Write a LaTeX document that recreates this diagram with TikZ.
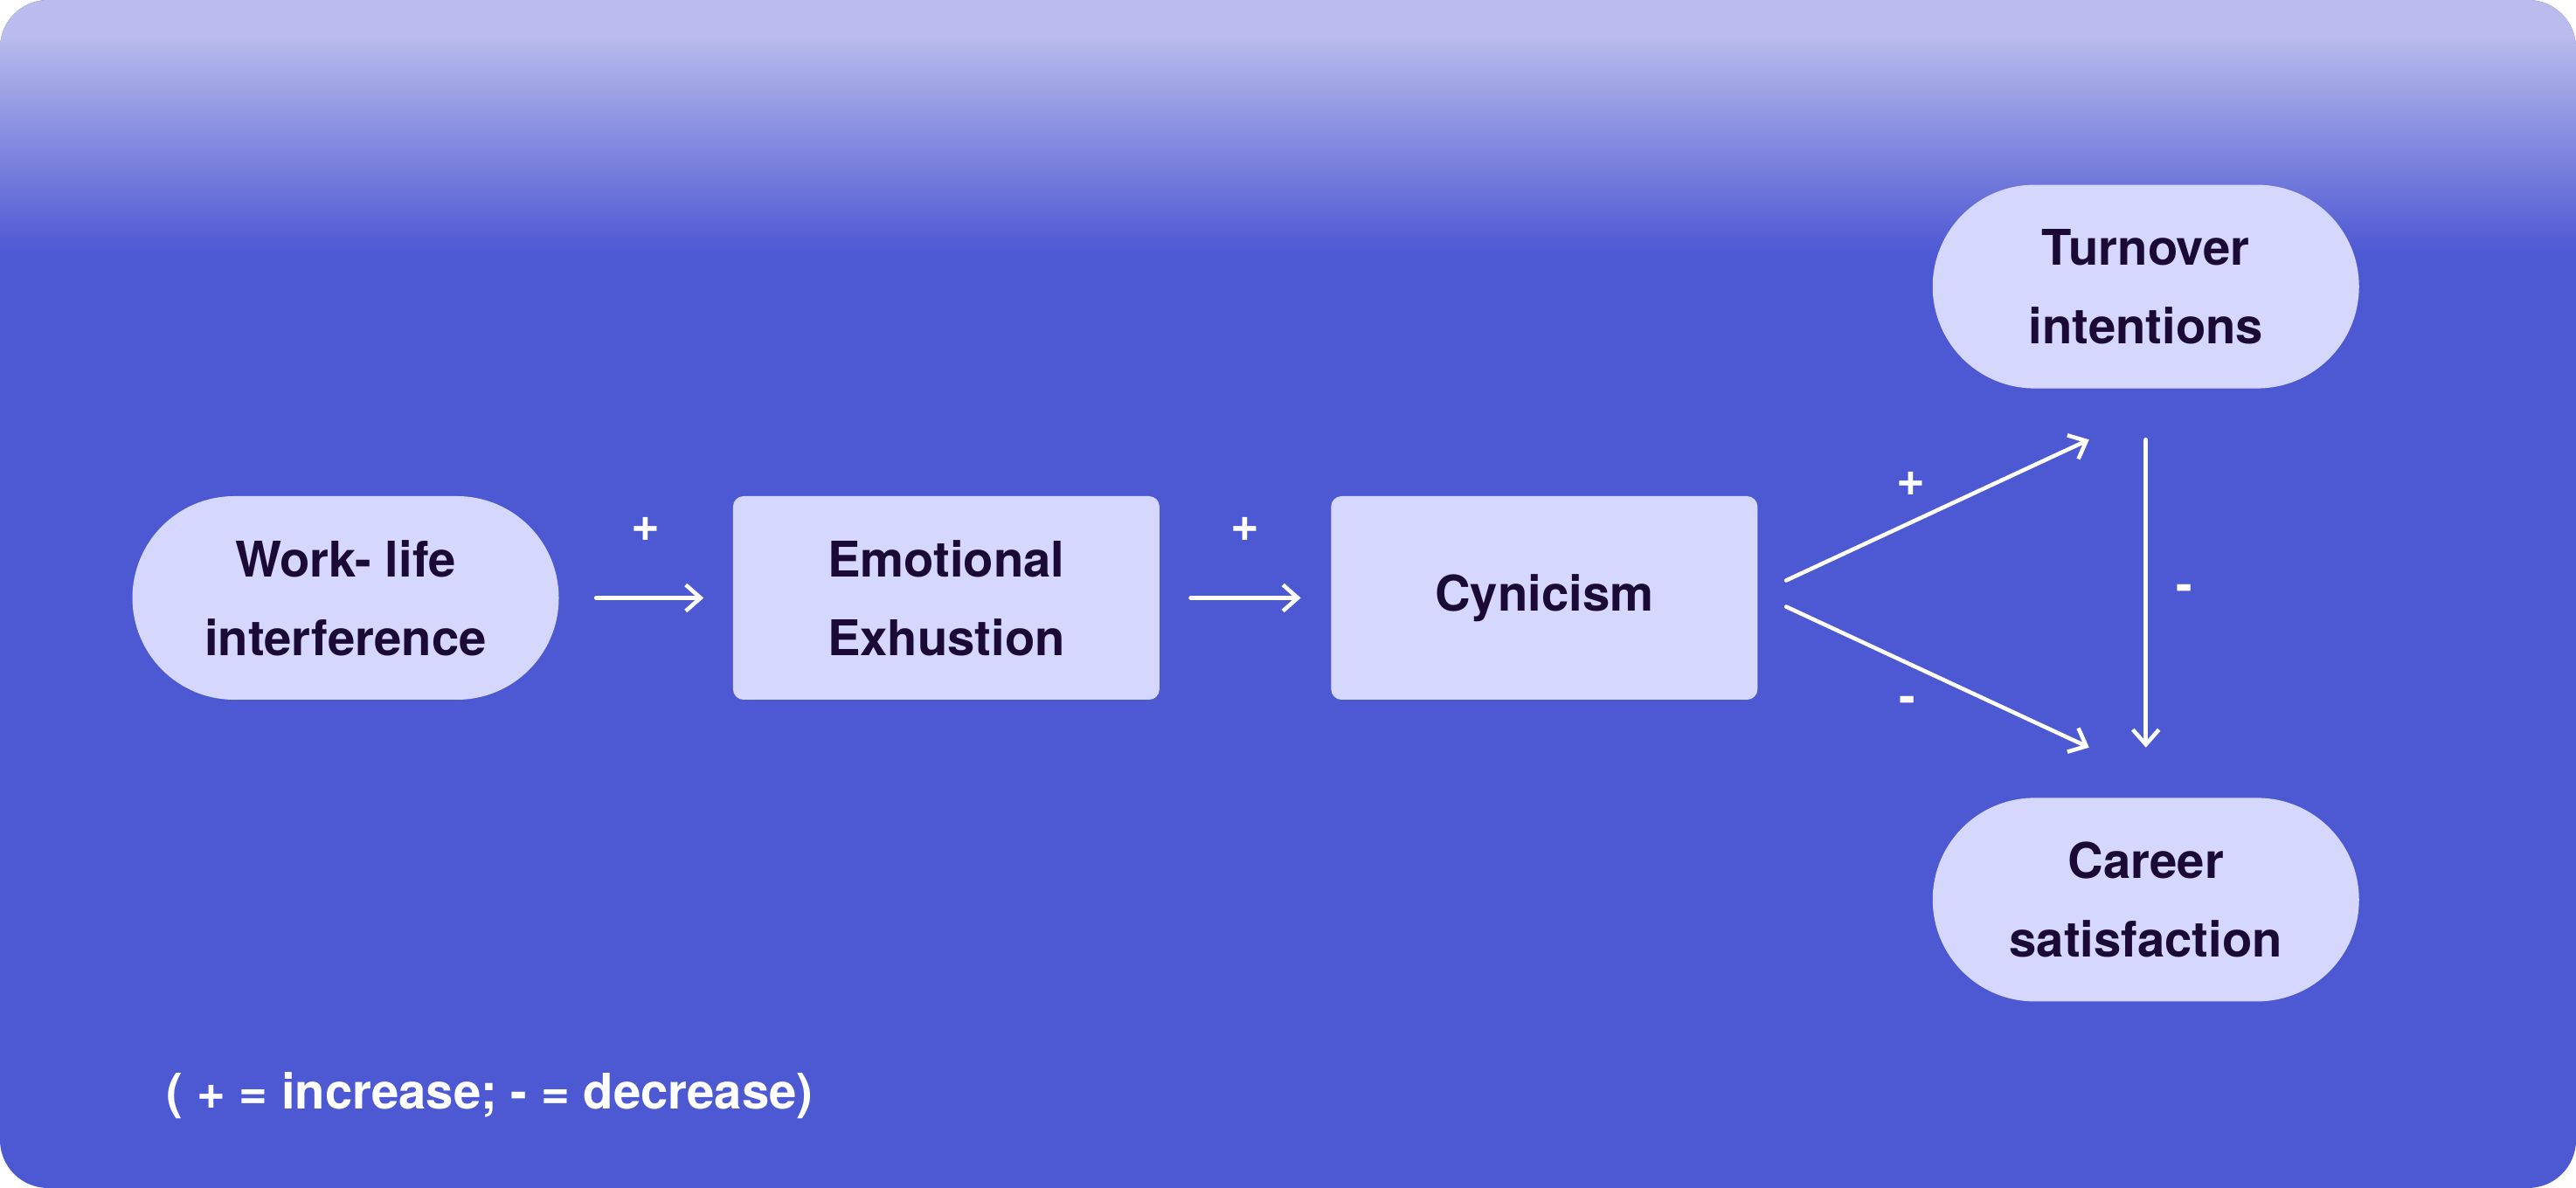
\documentclass[tikz,border=0pt]{standalone}
\usepackage{fontspec}
\setmainfont{TeX Gyre Heros}
\usepackage{xcolor}
\usetikzlibrary{arrows.meta, positioning}

\definecolor{bgmain}{HTML}{4D58D3}
\definecolor{bglight}{HTML}{B9BCEC}
\definecolor{boxfill}{HTML}{D6D7FC}
\definecolor{inkdark}{HTML}{1C0A36}

\begin{document}
\begin{tikzpicture}[
    node distance=1.97cm,
    pill/.style={rectangle, rounded corners=11.65mm, fill=boxfill, minimum width=4.88cm, minimum height=2.33cm, align=center, text=inkdark, font=\fontsize{16pt}{25.6pt}\selectfont\bfseries},
    box/.style={rectangle, rounded corners=1.2mm, fill=boxfill, minimum width=4.88cm, minimum height=2.33cm, align=center, text=inkdark, font=\fontsize{16pt}{25.6pt}\selectfont\bfseries},
    sign/.style={text=white, font=\fontsize{16pt}{19pt}\selectfont\bfseries, inner sep=0pt},
    arrow/.style={-{Straight Barb[length=1.7mm, width=3mm]}, white, line width=1.3pt, line cap=round, line join=round},
]
    % Background
    \useasboundingbox (0,0) rectangle (29.48,13.6);
    \fill[white] (0,0) rectangle (29.48,13.6);
    \begin{scope}
        \clip[rounded corners=5.5mm] (0,0) rectangle (29.48,13.6);
        \fill[bgmain] (0,0) rectangle (29.48,13.6);
        \fill[bglight] (0,13.2) rectangle (29.48,13.6);
        \shade[top color=bglight, bottom color=bgmain] (0,10.7) rectangle (29.48,13.2);
    \end{scope}

    % Main chain
    \node[pill] (work) at (3.955,6.755) {Work- life\\interference};
    \node[box, right=1.98cm of work] (emo) {Emotional\\Exhustion};
    \node[box, right=1.95cm of emo] (cyn) {Cynicism};

    % Outcomes
    \node[pill, above right=1.22cm and 1.99cm of cyn] (turn) {Turnover\\intentions};
    \node[pill, below right=1.11cm and 1.99cm of cyn] (career) {Career\\satisfaction};

    % Arrow ends
    \coordinate (upstart) at ([shift={(0.32,0.2)}]cyn.east);
    \coordinate (downstart) at ([shift={(0.32,-0.1)}]cyn.east);
    \coordinate (upend) at ([shift={(-0.65,-0.58)}]turn.south);
    \coordinate (downend) at ([shift={(-0.65,0.57)}]career.north);

    % Arrows
    \draw[arrow, shorten <=4.2mm, shorten >=3.3mm] (work.east) -- node[sign, yshift=7.9mm] {+} (emo.west);
    \draw[arrow, shorten <=3.5mm, shorten >=3.4mm] (emo.east) -- node[sign, yshift=7.9mm] {+} (cyn.west);
    \draw[arrow] (upstart) -- node[sign, shift={(-0.3,0.3)}] {+} (upend);
    \draw[arrow] (downstart) -- node[sign, shift={(-0.35,-0.32)}] {-} (downend);
    \draw[arrow, shorten <=5.8mm, shorten >=5.7mm] (turn.south) -- node[sign, xshift=4.4mm] {-} (career.north);

    % Legend
    \node[sign, anchor=west] (legend) at (1.9,1.06) {( + = increase; - = decrease)};
\end{tikzpicture}
\end{document}
